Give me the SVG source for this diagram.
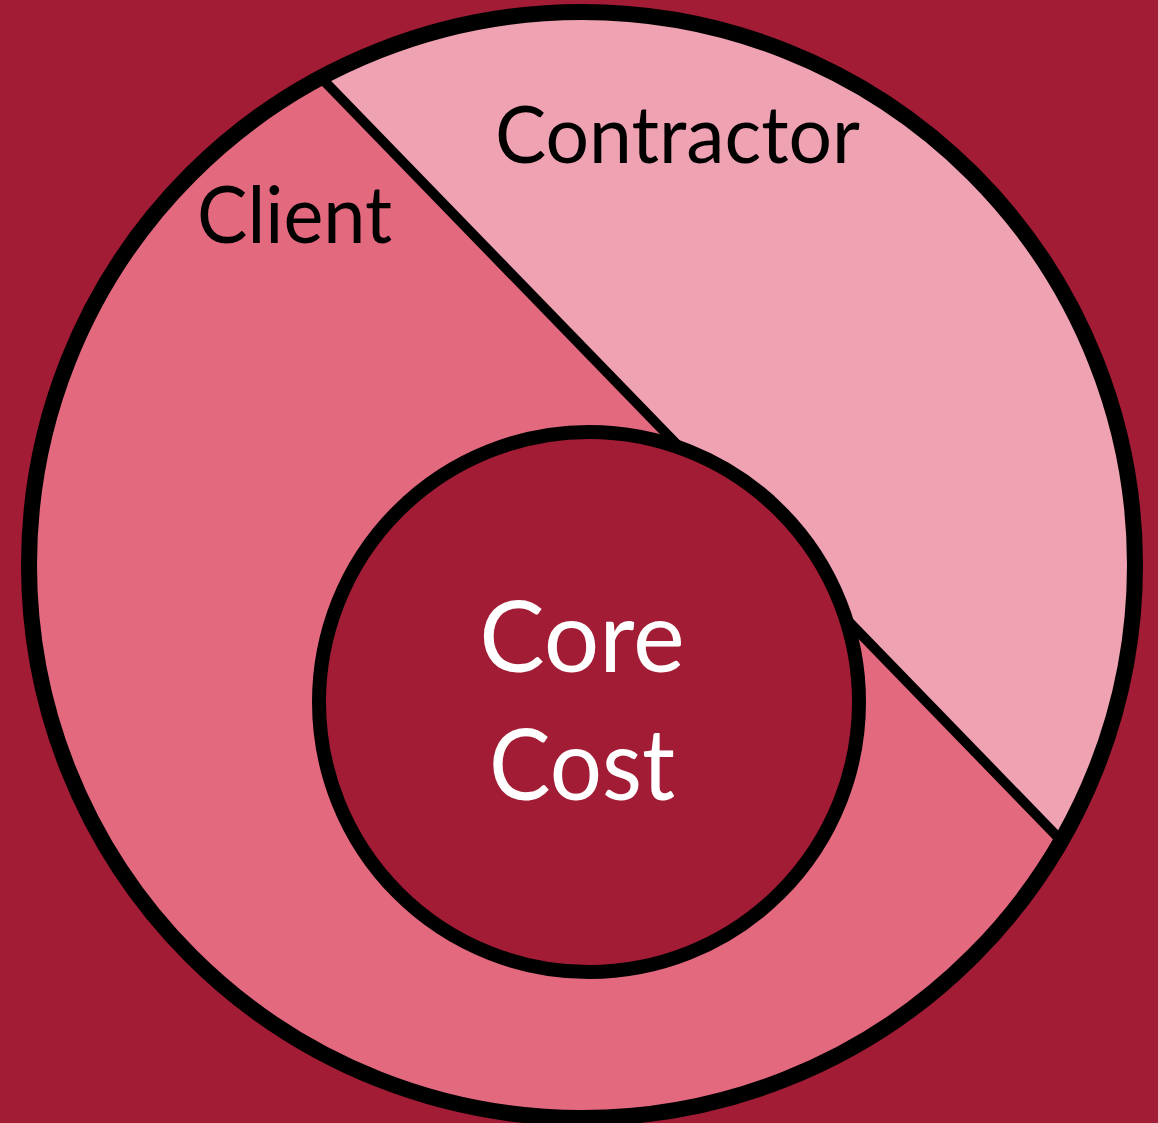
<svg xmlns="http://www.w3.org/2000/svg" width="1158" height="1123" viewBox="0 0 1158 1123">
  <style>
    .lbl { font-family: Lato, "Noto Sans", "Liberation Sans", sans-serif; fill: #000000; }
    .core { font-family: Lato, "Noto Sans", "Liberation Sans", sans-serif; fill: #FFFFFF; }
  </style>
  <defs>
    <clipPath id="outerClip">
      <circle cx="582" cy="565" r="553"/>
    </clipPath>
  </defs>
  <rect x="0" y="0" width="1158" height="1123" fill="#A31C35"/>
  <g id="client">
    <circle cx="582" cy="565" r="553" fill="#E3697F"/>
  </g>
  <g id="contractor">
    <polygon points="200,-47 1211,995 1211,-47" fill="#EEA2B2" clip-path="url(#outerClip)"/>
  </g>
  <g id="connectors">
    <line x1="200" y1="-47" x2="1211" y2="995" stroke="#000000" stroke-width="10" clip-path="url(#outerClip)"/>
  </g>
  <g id="outer-ring">
    <circle cx="582" cy="565" r="553" fill="none" stroke="#000000" stroke-width="16"/>
  </g>
  <g id="core-cost">
    <circle cx="589" cy="702" r="270" fill="#A31C35" stroke="#000000" stroke-width="14"/>
    <text class="core" x="582" y="672" font-size="98" text-anchor="middle">Core</text>
    <text class="core" x="582" y="800" font-size="98" text-anchor="middle" textLength="186" lengthAdjust="spacingAndGlyphs">Cost</text>
  </g>
  <g id="labels">
    <text class="lbl" x="495" y="163" font-size="80" textLength="365" lengthAdjust="spacingAndGlyphs">Contractor</text>
    <text class="lbl" x="197" y="243" font-size="80" textLength="195" lengthAdjust="spacingAndGlyphs">Client</text>
  </g>
</svg>
